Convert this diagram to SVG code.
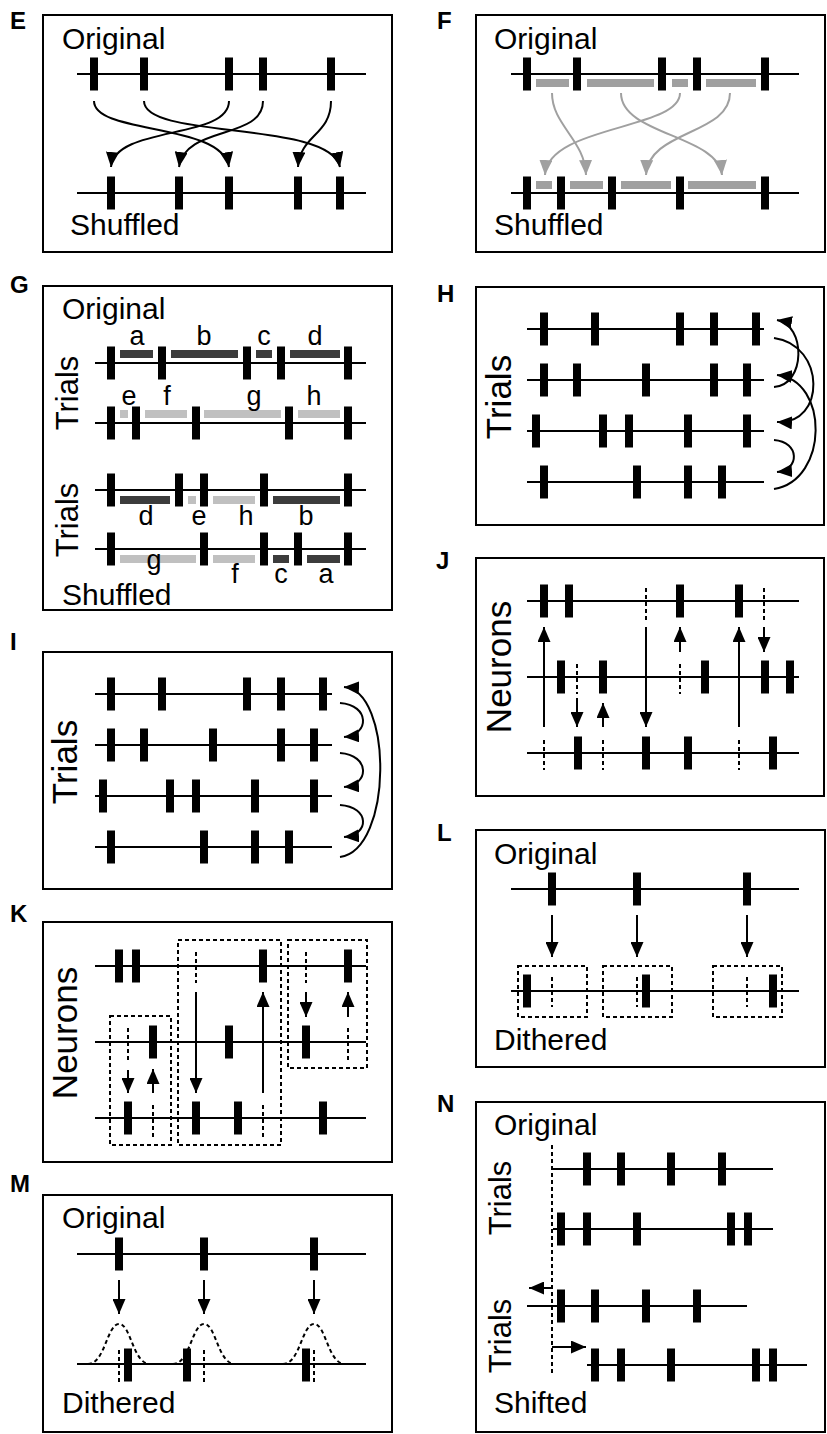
<svg xmlns="http://www.w3.org/2000/svg" xmlns:xlink="http://www.w3.org/1999/xlink" width="827" height="1434" viewBox="0 0 827 1434">
<style>
.bg{fill:#fff}
.box{fill:none;stroke:#000;stroke-width:2}
.ln{stroke:#000;stroke-width:2;fill:none}
.dash{stroke:#000;stroke-width:2;stroke-dasharray:4 3;fill:none}
.arr{stroke:#000;stroke-width:2;fill:none;marker-end:url(#ah)}
.garr{stroke:#a0a0a0;stroke-width:2;fill:none;marker-end:url(#gah)}
.t{font-family:"Liberation Sans",Arial,sans-serif;font-size:30px;fill:#000}
.tr{font-family:"Liberation Sans",Arial,sans-serif;font-size:35px;fill:#000;text-anchor:middle}
.tg{font-family:"Liberation Sans",Arial,sans-serif;font-size:31px;fill:#000;text-anchor:middle}
.lt{font-family:"Liberation Sans",Arial,sans-serif;font-size:27px;fill:#000;text-anchor:middle}
.lab{font-family:"Liberation Sans",Arial,sans-serif;font-size:24px;font-weight:bold;fill:#000}
.gb{fill:#a0a0a0}
.db{fill:#3c3c3c}
.lb{fill:#c0c0c0}
</style>
<defs>
<rect id="s" x="-4" y="-16.5" width="8" height="33" fill="#000"/>
<marker id="ah" markerUnits="userSpaceOnUse" markerWidth="15" markerHeight="13" viewBox="0 0 15 13" refX="15" refY="6.5" orient="auto"><path d="M0,0 L15,6.5 L0,13 z" fill="#000"/></marker>
<marker id="gah" markerUnits="userSpaceOnUse" markerWidth="15" markerHeight="13" viewBox="0 0 15 13" refX="15" refY="6.5" orient="auto"><path d="M0,0 L15,6.5 L0,13 z" fill="#a0a0a0"/></marker>
</defs>
<rect class="bg" x="0" y="0" width="827" height="1434"/>

<!-- Panel E -->
<g id="panelE">
<rect class="box" x="43" y="15" width="349" height="237"/>
<text class="lab" x="10" y="29">E</text>
<text class="t" x="62" y="49">Original</text>
<line class="ln" x1="77" y1="74" x2="366" y2="74"/>
<use href="#s" x="94" y="74"/><use href="#s" x="144" y="74"/><use href="#s" x="229" y="74"/><use href="#s" x="263" y="74"/><use href="#s" x="331" y="74"/>
<line class="ln" x1="77" y1="193" x2="366" y2="193"/>
<use href="#s" x="111" y="193"/><use href="#s" x="179" y="193"/><use href="#s" x="229" y="193"/><use href="#s" x="298" y="193"/><use href="#s" x="340" y="193"/>
<text class="t" x="70" y="235">Shuffled</text>
</g>

<!-- Panel F -->
<g id="panelF">
<rect class="box" x="476" y="15" width="349" height="237"/>
<text class="lab" x="437" y="29">F</text>
<text class="t" x="494" y="49">Original</text>
<line class="ln" x1="511" y1="74" x2="799" y2="74"/>
<rect class="gb" x="536" y="79" width="33" height="8"/><rect class="gb" x="587" y="79" width="67" height="8"/><rect class="gb" x="672" y="79" width="16" height="8"/><rect class="gb" x="706" y="79" width="50" height="8"/>
<use href="#s" x="527" y="74"/><use href="#s" x="577" y="74"/><use href="#s" x="662" y="74"/><use href="#s" x="697" y="74"/><use href="#s" x="765" y="74"/>
<line class="ln" x1="511" y1="193" x2="799" y2="193"/>
<rect class="gb" x="536" y="181" width="16" height="8"/><rect class="gb" x="570" y="181" width="33" height="8"/><rect class="gb" x="621" y="181" width="50" height="8"/><rect class="gb" x="688" y="181" width="68" height="8"/>
<use href="#s" x="527" y="193"/><use href="#s" x="561" y="193"/><use href="#s" x="612" y="193"/><use href="#s" x="680" y="193"/><use href="#s" x="765" y="193"/>
<text class="t" x="494" y="235">Shuffled</text>
</g>

<!-- Panel G -->
<g id="panelG">
<rect class="box" x="43" y="286" width="349" height="324"/>
<text class="lab" x="10" y="293">G</text>
<text class="t" x="62" y="319">Original</text>
<line class="ln" x1="95" y1="363" x2="366" y2="363"/>
<rect class="db" x="120" y="350" width="33" height="8"/><rect class="db" x="171" y="350" width="67" height="8"/><rect class="db" x="256" y="350" width="16" height="8"/><rect class="db" x="290" y="350" width="50" height="8"/>
<use href="#s" x="111" y="363"/><use href="#s" x="162" y="363"/><use href="#s" x="247" y="363"/><use href="#s" x="281" y="363"/><use href="#s" x="348" y="363"/>
<text class="lt" x="137" y="345">a</text><text class="lt" x="204" y="345">b</text><text class="lt" x="264" y="345">c</text><text class="lt" x="315" y="345">d</text>
<line class="ln" x1="95" y1="423" x2="366" y2="423"/>
<rect class="lb" x="120" y="410" width="8" height="8"/><rect class="lb" x="145" y="410" width="42" height="8"/><rect class="lb" x="204" y="410" width="77" height="8"/><rect class="lb" x="298" y="410" width="42" height="8"/>
<use href="#s" x="111" y="423"/><use href="#s" x="136" y="423"/><use href="#s" x="196" y="423"/><use href="#s" x="289" y="423"/><use href="#s" x="348" y="423"/>
<text class="lt" x="129" y="405">e</text><text class="lt" x="167" y="405">f</text><text class="lt" x="254" y="405">g</text><text class="lt" x="314" y="405">h</text>
<line class="ln" x1="95" y1="490" x2="366" y2="490"/>
<rect class="db" x="120" y="496" width="50" height="8"/><rect class="lb" x="188" y="496" width="8" height="8"/><rect class="lb" x="213" y="496" width="42" height="8"/><rect class="db" x="273" y="496" width="67" height="8"/>
<use href="#s" x="111" y="490"/><use href="#s" x="179" y="490"/><use href="#s" x="204" y="490"/><use href="#s" x="264" y="490"/><use href="#s" x="348" y="490"/>
<text class="lt" x="146" y="525">d</text><text class="lt" x="199" y="525">e</text><text class="lt" x="246" y="525">h</text><text class="lt" x="306" y="525">b</text>
<line class="ln" x1="95" y1="549" x2="366" y2="549"/>
<rect class="lb" x="120" y="555" width="76" height="8"/><rect class="lb" x="213" y="555" width="42" height="8"/><rect class="db" x="273" y="555" width="16" height="8"/><rect class="db" x="307" y="555" width="33" height="8"/>
<use href="#s" x="111" y="549"/><use href="#s" x="204" y="549"/><use href="#s" x="264" y="549"/><use href="#s" x="298" y="549"/><use href="#s" x="348" y="549"/>
<text class="lt" x="154" y="569">g</text><text class="lt" x="235" y="583">f</text><text class="lt" x="281" y="583">c</text><text class="lt" x="326" y="583">a</text>
<text class="tg" transform="translate(78,393) rotate(-90)">Trials</text>
<text class="tg" transform="translate(78,520) rotate(-90)">Trials</text>
<text class="t" x="62" y="605">Shuffled</text>
</g>

<!-- Panel H -->
<g id="panelH">
<rect class="box" x="476" y="287" width="348" height="238"/>
<text class="lab" x="437" y="302">H</text>
<line class="ln" x1="527" y1="329" x2="764" y2="329"/>
<use href="#s" x="544" y="329"/><use href="#s" x="595" y="329"/><use href="#s" x="680" y="329"/><use href="#s" x="714" y="329"/><use href="#s" x="756" y="329"/>
<line class="ln" x1="527" y1="380" x2="764" y2="380"/>
<use href="#s" x="544" y="380"/><use href="#s" x="577" y="380"/><use href="#s" x="646" y="380"/><use href="#s" x="714" y="380"/><use href="#s" x="747" y="380"/>
<line class="ln" x1="527" y1="431" x2="764" y2="431"/>
<use href="#s" x="536" y="431"/><use href="#s" x="603" y="431"/><use href="#s" x="629" y="431"/><use href="#s" x="688" y="431"/><use href="#s" x="747" y="431"/>
<line class="ln" x1="527" y1="482" x2="764" y2="482"/>
<use href="#s" x="544" y="482"/><use href="#s" x="637" y="482"/><use href="#s" x="688" y="482"/><use href="#s" x="722" y="482"/>
<text class="tr" transform="translate(511,397) rotate(-90)">Trials</text>
</g>

<!-- Panel I -->
<g id="panelI">
<rect class="box" x="43" y="652" width="349" height="237"/>
<text class="lab" x="10" y="650">I</text>
<line class="ln" x1="95" y1="694" x2="332" y2="694"/>
<use href="#s" x="111" y="694"/><use href="#s" x="162" y="694"/><use href="#s" x="247" y="694"/><use href="#s" x="281" y="694"/><use href="#s" x="323" y="694"/>
<line class="ln" x1="95" y1="745" x2="332" y2="745"/>
<use href="#s" x="111" y="745"/><use href="#s" x="144" y="745"/><use href="#s" x="213" y="745"/><use href="#s" x="281" y="745"/><use href="#s" x="314" y="745"/>
<line class="ln" x1="95" y1="796" x2="332" y2="796"/>
<use href="#s" x="103" y="796"/><use href="#s" x="170" y="796"/><use href="#s" x="196" y="796"/><use href="#s" x="255" y="796"/><use href="#s" x="314" y="796"/>
<line class="ln" x1="95" y1="847" x2="332" y2="847"/>
<use href="#s" x="111" y="847"/><use href="#s" x="204" y="847"/><use href="#s" x="255" y="847"/><use href="#s" x="289" y="847"/>
<text class="tr" transform="translate(77,762) rotate(-90)">Trials</text>
</g>

<!-- Panel J -->
<g id="panelJ">
<rect class="box" x="476" y="558" width="348" height="238"/>
<text class="lab" x="436" y="569">J</text>
<line class="ln" x1="527" y1="601" x2="799" y2="601"/>
<use href="#s" x="544" y="601"/><use href="#s" x="569" y="601"/><use href="#s" x="680" y="601"/><use href="#s" x="739" y="601"/>
<line class="dash" x1="646" y1="588" x2="646" y2="620"/><line class="dash" x1="764" y1="588" x2="764" y2="620"/>
<line class="ln" x1="527" y1="677" x2="799" y2="677"/>
<use href="#s" x="561" y="677"/><use href="#s" x="603" y="677"/><use href="#s" x="705" y="677"/><use href="#s" x="765" y="677"/><use href="#s" x="790" y="677"/>
<line class="dash" x1="577" y1="664" x2="577" y2="694"/><line class="dash" x1="680" y1="664" x2="680" y2="694"/>
<line class="ln" x1="527" y1="753" x2="799" y2="753"/>
<use href="#s" x="578" y="753"/><use href="#s" x="646" y="753"/><use href="#s" x="688" y="753"/><use href="#s" x="773" y="753"/>
<line class="dash" x1="544" y1="740" x2="544" y2="770"/><line class="dash" x1="603" y1="740" x2="603" y2="770"/><line class="dash" x1="739" y1="740" x2="739" y2="770"/>
<text class="tr" transform="translate(511,667) rotate(-90)">Neurons</text>
</g>

<!-- Panel K -->
<g id="panelK">
<rect class="box" x="43" y="922" width="349" height="240"/>
<text class="lab" x="10" y="922">K</text>
<line class="ln" x1="95" y1="966" x2="366" y2="966"/>
<use href="#s" x="119" y="966"/><use href="#s" x="136" y="966"/><use href="#s" x="263" y="966"/><use href="#s" x="348" y="966"/>
<line class="dash" x1="196" y1="952" x2="196" y2="983"/><line class="dash" x1="306" y1="952" x2="306" y2="983"/>
<line class="ln" x1="95" y1="1042" x2="366" y2="1042"/>
<use href="#s" x="153" y="1042"/><use href="#s" x="229" y="1042"/><use href="#s" x="306" y="1042"/>
<line class="dash" x1="128" y1="1028" x2="128" y2="1060"/><line class="dash" x1="348" y1="1028" x2="348" y2="1060"/>
<line class="ln" x1="95" y1="1118" x2="366" y2="1118"/>
<use href="#s" x="128" y="1118"/><use href="#s" x="196" y="1118"/><use href="#s" x="238" y="1118"/><use href="#s" x="323" y="1118"/>
<line class="dash" x1="153" y1="1105" x2="153" y2="1137"/><line class="dash" x1="263" y1="1105" x2="263" y2="1137"/>
<rect class="dash" x="110" y="1016" width="61" height="129"/>
<rect class="dash" x="178" y="940" width="103" height="205"/>
<rect class="dash" x="288" y="940" width="79" height="128"/>
<text class="tr" transform="translate(77,1033) rotate(-90)">Neurons</text>
</g>

<!-- Panel L -->
<g id="panelL">
<rect class="box" x="476" y="830" width="349" height="237"/>
<text class="lab" x="437" y="841">L</text>
<text class="t" x="494" y="864">Original</text>
<line class="ln" x1="511" y1="889" x2="799" y2="889"/>
<use href="#s" x="552" y="889"/><use href="#s" x="637" y="889"/><use href="#s" x="747" y="889"/>
<line class="ln" x1="511" y1="991" x2="799" y2="991"/>
<use href="#s" x="527" y="991"/><use href="#s" x="646" y="991"/><use href="#s" x="773" y="991"/>
<line class="dash" x1="552" y1="977" x2="552" y2="1007"/><line class="dash" x1="637" y1="977" x2="637" y2="1007"/><line class="dash" x1="747" y1="977" x2="747" y2="1007"/>
<rect class="dash" x="518" y="966" width="69" height="51"/>
<rect class="dash" x="603" y="966" width="69" height="51"/>
<rect class="dash" x="713" y="966" width="69" height="51"/>
<text class="t" x="494" y="1050">Dithered</text>
</g>

<!-- Panel M -->
<g id="panelM">
<rect class="box" x="43" y="1195" width="349" height="237"/>
<text class="lab" x="10" y="1192">M</text>
<text class="t" x="62" y="1228">Original</text>
<line class="ln" x1="77" y1="1254" x2="366" y2="1254"/>
<use href="#s" x="119" y="1254"/><use href="#s" x="204" y="1254"/><use href="#s" x="314" y="1254"/>
<line class="ln" x1="77" y1="1364" x2="366" y2="1364"/>
<path class="dash" d="M88,1364 C105,1364 107,1324 119,1324 C131,1324 133,1364 150,1364"/>
<path class="dash" d="M173,1364 C190,1364 192,1324 204,1324 C216,1324 218,1364 235,1364"/>
<path class="dash" d="M283,1364 C300,1364 302,1324 314,1324 C326,1324 328,1364 345,1364"/>
<use href="#s" x="128" y="1365"/><use href="#s" x="187" y="1365"/><use href="#s" x="306" y="1365"/>
<line class="dash" x1="119" y1="1350" x2="119" y2="1382"/><line class="dash" x1="204" y1="1350" x2="204" y2="1382"/><line class="dash" x1="314" y1="1350" x2="314" y2="1382"/>
<text class="t" x="62" y="1413">Dithered</text>
</g>

<!-- Panel N -->
<g id="panelN">
<rect class="box" x="476" y="1102" width="349" height="330"/>
<text class="lab" x="437" y="1112">N</text>
<text class="t" x="494" y="1135">Original</text>
<line class="ln" x1="553" y1="1169" x2="773" y2="1169"/>
<use href="#s" x="587" y="1169"/><use href="#s" x="621" y="1169"/><use href="#s" x="671" y="1169"/><use href="#s" x="722" y="1169"/>
<line class="ln" x1="553" y1="1229" x2="773" y2="1229"/>
<use href="#s" x="561" y="1229"/><use href="#s" x="587" y="1229"/><use href="#s" x="637" y="1229"/><use href="#s" x="731" y="1229"/><use href="#s" x="748" y="1229"/>
<line class="ln" x1="527" y1="1306" x2="747" y2="1306"/>
<use href="#s" x="561" y="1306"/><use href="#s" x="595" y="1306"/><use href="#s" x="646" y="1306"/><use href="#s" x="697" y="1306"/>
<line class="ln" x1="587" y1="1365" x2="807" y2="1365"/>
<use href="#s" x="595" y="1365"/><use href="#s" x="621" y="1365"/><use href="#s" x="671" y="1365"/><use href="#s" x="756" y="1365"/><use href="#s" x="773" y="1365"/>
<line class="dash" x1="552" y1="1145" x2="552" y2="1373"/>
<text class="tg" transform="translate(511,1198) rotate(-90)">Trials</text>
<text class="tg" transform="translate(511,1336) rotate(-90)">Trials</text>
<text class="t" x="494" y="1413">Shifted</text>
</g>

<g id="connectors">
<g id="connE">
<path class="arr" d="M94,101 C94,135 222,122 229,167"/>
<path class="arr" d="M144,101 C144,140 330,120 340,167"/>
<path class="arr" d="M229,101 C229,140 115,125 111,167"/>
<path class="arr" d="M263,101 C263,140 185,125 179,167"/>
<path class="arr" d="M331,101 C331,135 300,135 298,167"/>
</g>
<g id="connF">
<path class="garr" d="M552,93 C552,125 585,140 586,175"/>
<path class="garr" d="M621,93 C621,135 718,135 722,175"/>
<path class="garr" d="M680,93 C680,130 548,125 545,175"/>
<path class="garr" d="M730,93 C730,135 648,130 646,175"/>
</g>
<g id="connH">
<path class="arr" d="M774,387 C806,385 806,325 777,320"/>
<path class="arr" d="M774,338 C826,345 826,425 777,422"/>
<path class="arr" d="M774,489 C829,480 829,380 777,375"/>
<path class="arr" d="M774,440 C800,442 800,470 777,472"/>
</g>
<g id="connI">
<path class="arr" d="M340,703 C370,705 370,735 344,737"/>
<path class="arr" d="M340,753 C370,755 370,785 344,787"/>
<path class="arr" d="M340,805 C370,807 370,835 344,837"/>
<path class="arr" d="M340,857 C393,850 393,690 344,687"/>
</g>
<g id="connJ">
<path class="arr" d="M544,727 L544,627"/>
<path class="arr" d="M577,698 L577,727"/>
<path class="arr" d="M603,727 L603,703"/>
<path class="arr" d="M646,627 L646,727"/>
<path class="arr" d="M680,652 L680,627"/>
<path class="arr" d="M739,727 L739,627"/>
<path class="arr" d="M764,627 L764,652"/>
</g>
<g id="connK">
<path class="arr" d="M128,1070 L128,1093"/>
<path class="arr" d="M153,1093 L153,1069"/>
<path class="arr" d="M196,992 L196,1093"/>
<path class="arr" d="M263,1093 L263,992"/>
<path class="arr" d="M306,992 L306,1017"/>
<path class="arr" d="M348,1017 L348,992"/>
</g>
<g id="connL">
<path class="arr" d="M552,915 L552,957"/>
<path class="arr" d="M637,915 L637,957"/>
<path class="arr" d="M747,915 L747,957"/>
</g>
<g id="connM">
<path class="arr" d="M119,1280 L119,1314"/>
<path class="arr" d="M204,1280 L204,1314"/>
<path class="arr" d="M314,1280 L314,1314"/>
</g>
<g id="connN">
<path class="arr" d="M552,1288 L529,1288"/>
<path class="arr" d="M552,1347 L586,1347"/>
</g>
</g>
</svg>
